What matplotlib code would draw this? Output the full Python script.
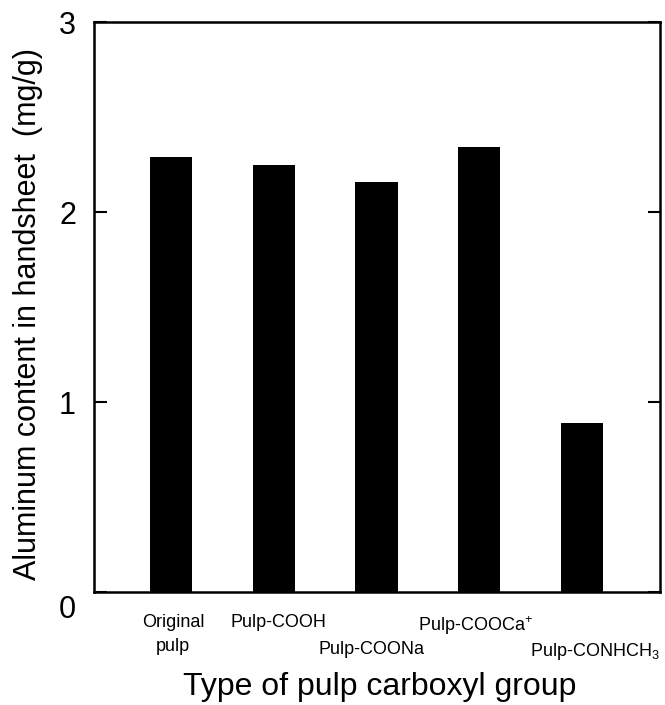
import matplotlib
matplotlib.use("Agg")
import matplotlib.pyplot as plt
import matplotlib.transforms as mtransforms

categories = ["Original\npulp", "Pulp-COOH", "Pulp-COONa", "Pulp-COOCa$^{+}$", "Pulp-CONHCH$_3$"]
values = [2.29, 2.25, 2.16, 2.34, 0.89]
yticks = [0, 1, 2, 3]

plt.rcParams['font.family'] = ['Liberation Sans', 'DejaVu Sans']
plt.rcParams['mathtext.fontset'] = 'custom'
plt.rcParams['mathtext.rm'] = 'Liberation Sans'

fig = plt.figure(figsize=(6.65, 7.05), dpi=100)
ax = fig.add_axes([94/665, 1-592/705, (660-94)/665, (592-22)/705])

x = list(range(len(categories)))
ax.bar(x, values, width=0.41, color='black')
ax.set_xlim(-0.75, 4.76)
ax.set_ylim(0, 3)
ax.set_yticks(yticks)
ax.set_yticklabels([str(t) for t in yticks], fontsize=22)
ax.tick_params(axis='y', direction='in', length=9, width=1.5, right=True, pad=13)
ax.set_xticks([])
for s in ax.spines.values():
    s.set_linewidth(1.8)

# the "0" label sits a little below the baseline in the reference
lbl0 = ax.get_yticklabels()[0]
lbl0.set_transform(lbl0.get_transform() + mtransforms.ScaledTranslation(0, -14/100, fig.dpi_scale_trans))

offsets = [(0.02, 0), (0.05, 0), (-0.05, 1), (-0.04, 0), (0.13, 1)]
for i, (lab, (dx, row)) in enumerate(zip(categories, offsets)):
    ax.annotate(lab, xy=(i + dx, 0), xycoords=('data', 'axes fraction'),
                xytext=(0, -16 - 19 * row), textcoords='offset points',
                ha='center', va='top', fontsize=13, linespacing=1.55)

fig.text(380/665, 1-687/705, "Type of pulp carboxyl group", ha='center', va='center', fontsize=23)
fig.text(28/665, 1-314/705, "Aluminum content in handsheet  (mg/g)", ha='center', va='center',
         fontsize=22, rotation=90)

fig.savefig("out.png", dpi=100)
